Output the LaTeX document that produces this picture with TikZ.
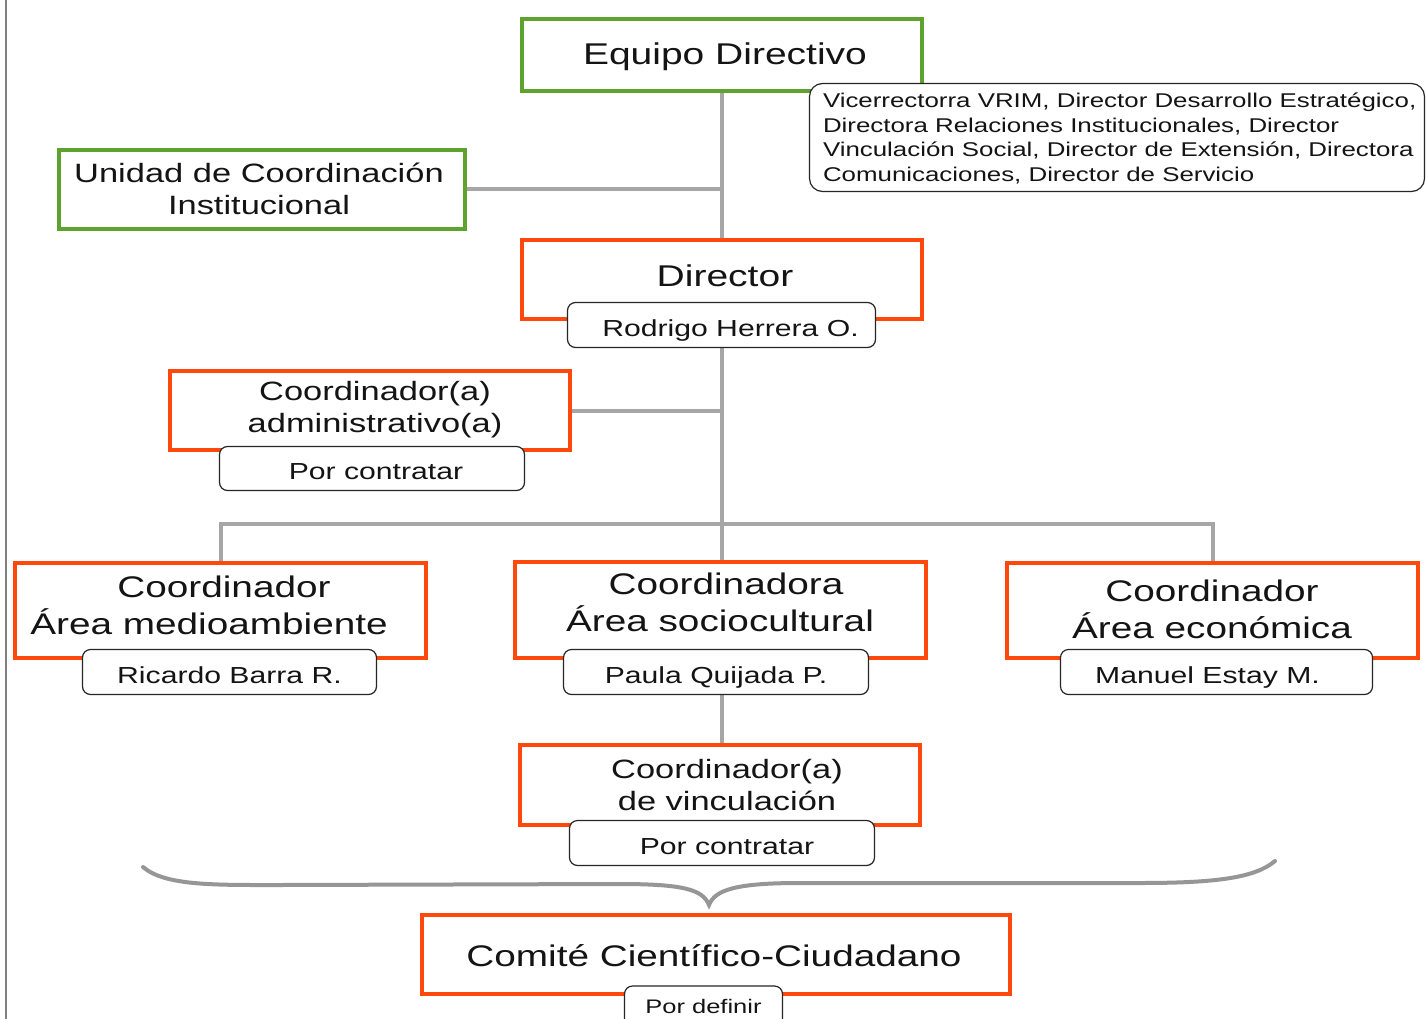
\documentclass[tikz,border=0pt]{standalone}
\usepackage{fontspec}
\setmainfont{Liberation Sans}[FakeStretch=1.3]
\usetikzlibrary{backgrounds}
\definecolor{og}{RGB}{255,72,12}
\definecolor{gr}{RGB}{95,163,47}
\definecolor{cn}{RGB}{166,166,166}
\definecolor{br}{RGB}{150,150,150}
\definecolor{tx}{RGB}{20,20,20}
\newcommand\fs[2]{\fontsize{#1}{#2}\selectfont}
\tikzset{
  every node/.style={inner sep=0pt, outer sep=0pt, text=tx},
  gbox/.style={draw=gr, line width=4.6pt, fill=white},
  obox/.style={draw=og, line width=4.6pt, fill=white},
  namebox/.style={draw=black!85, line width=1.2pt, fill=white, rounded corners=8pt, font=\fs{23.2}{28}, text height=24pt, text depth=2pt},
  conn/.style={draw=cn, line width=4pt},
  bigtxt/.style={font=\fs{30}{36}, align=center, text height=26pt, text depth=1pt},
  midtxt/.style={font=\fs{26.5}{32}, align=center},
  areatxt/.style={font=\fs{29.8}{37}, align=center},
}
\begin{document}
\begin{tikzpicture}[x=1pt,y=-1pt]
\useasboundingbox (0,0) rectangle (1426,1019);

% boxes
\node[gbox, minimum width=400, minimum height=72] (eq) at (722,55) {};
\node[gbox, minimum width=406, minimum height=79] (uni) at (262,189.5) {};
\node[obox, minimum width=400, minimum height=79] (dir) at (722,279.5) {};
\node[obox, minimum width=400, minimum height=79] (adm) at (370,410.5) {};
\node[obox, minimum width=411, minimum height=95] (med) at (220.5,610.5) {};
\node[obox, minimum width=411, minimum height=96] (soc) at (720.5,610) {};
\node[obox, minimum width=411, minimum height=95] (eco) at (1212.5,610.5) {};
\node[obox, minimum width=400, minimum height=80] (vin) at (720,785) {};
\node[obox, minimum width=588, minimum height=79] (com) at (716,954.5) {};

% name boxes
\node[namebox, minimum width=308, minimum height=45] (dirn) at (721.5,325) {\hspace*{18pt}Rodrigo Herrera O.};
\node[namebox, minimum width=305, minimum height=44] (admn) at (372,468.5) {\hspace*{8pt}Por contratar};
\node[namebox, minimum width=294, minimum height=45] (medn) at (229.5,672) {Ricardo Barra R.};
\node[namebox, minimum width=305, minimum height=45] (socn) at (716,672) {Paula Quijada P.};
\node[namebox, minimum width=312, minimum height=45] (econ) at (1216.5,672) {Manuel Estay M.\hspace*{18pt}};
\node[namebox, minimum width=305, minimum height=45] (vinn) at (722,843) {\hspace*{10pt}Por contratar};
\node[namebox, minimum width=158, minimum height=44, font=\fs{19.6}{24}, text height=14pt, text depth=4pt] (comn) at (703.5,1008) {Por definir};
\node[draw=black!85, line width=1.2pt, fill=white, rounded corners=13pt, minimum width=615, minimum height=108] (desc) at (1117,137.5) {};

% connectors
\coordinate (bus) at (721,524);
\begin{scope}[on background layer]
\fill[white] (0,0) rectangle (1426,1019);
\draw[gray, line width=2pt] (6,0) -- (6,1019);
\draw[conn] (eq.south -| dirn.south) -- (dir.north -| dirn.south);
\draw[conn] (uni.east) -- (uni.east -| dirn.south);
\draw[conn] (dirn.south) -- (soc.north -| dirn.south);
\draw[conn] (adm.east) -- (adm.east -| dirn.south);
\draw[conn] (med.north) |- (bus) -| (eco.north);
\draw[conn] (socn.south -| dirn.south) -- (vin.north -| dirn.south);
\end{scope}

% texts
\node[bigtxt] (teq) at (725,52) {Equipo Directivo};
\node[midtxt] (tuni) at (259,188.5) {Unidad de Coordinación\\Institucional};
\node[bigtxt] (tdir) at (725,274) {Director};
\node[midtxt] (tadm) at (375,410) {Coordinador(a)\\administrativo(a)};
\node[areatxt] (tmed) at (214,605.5) {\hspace*{20pt}Coordinador\\Área medioambiente\hspace*{10pt}};
\node[areatxt] (tsoc) at (720,602.5) {\hspace*{12pt}Coordinadora\\Área sociocultural};
\node[areatxt] (teco) at (1212,609.5) {Coordinador\\Área económica};
\node[midtxt] (tvin) at (727,785) {Coordinador(a)\\de vinculación};
\node[font=\fs{29.8}{36}, text height=22pt, text depth=2pt] (tcom) at (714,956) {Comité Científico-Ciudadano};
\node[font=\fs{19.9}{24.7}, align=left, anchor=west] (tdesc) at (823,138.5) {Vicerrectorra VRIM, Director Desarrollo Estratégico,\\Directora Relaciones Institucionales, Director\\Vinculación Social, Director de Extensión, Directora\\Comunicaciones, Director de Servicio};

% brace
\coordinate (bl) at (143,867);
\coordinate (bm) at (709,905);
\coordinate (brr) at (1275,861);
\draw[br, line width=4pt, line cap=round]
  (bl) .. controls (165,886) and (215,885) .. (280,885)
  -- (620,884) .. controls (685,884) and (703,890) .. (bm)
  .. controls (715,890) and (735,883) .. (800,883)
  -- (1140,883) .. controls (1215,883) and (1255,878) .. (brr);
\end{tikzpicture}
\end{document}
